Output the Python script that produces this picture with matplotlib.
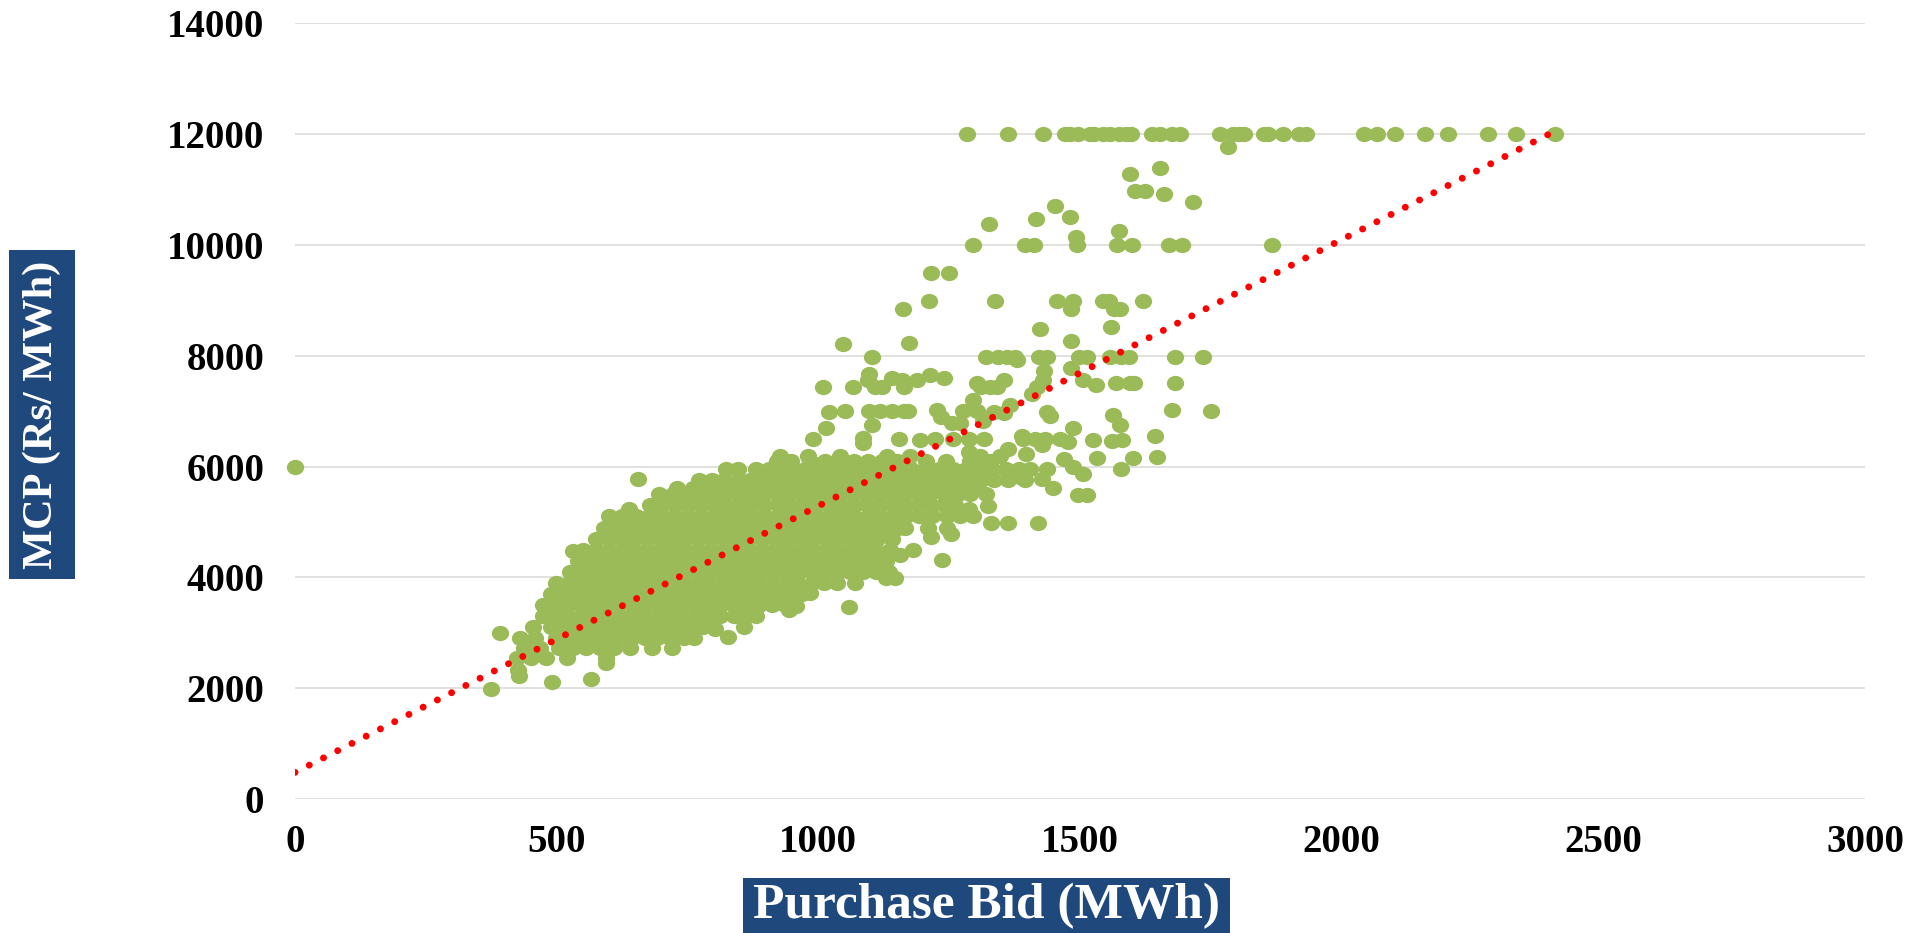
#!/usr/bin/env python3
# -*- coding: utf-8 -*-
"""
MCP against purchase bid, scatter with linear trend
"""
#%%
import matplotlib
matplotlib.use('Agg')
import matplotlib.pyplot as plt
from matplotlib.markers import MarkerStyle
from matplotlib.patches import Rectangle
from matplotlib.transforms import Affine2D

#%% Values
x_ticks = [0, 500, 1000, 1500, 2000, 2500, 3000]
y_ticks = [0, 2000, 4000, 6000, 8000, 10000, 12000, 14000]

trend_x = [0, 2400]
trend_y = [480, 12020]

# capped prices
cap_x = [1284, 1363, 1429, 1472, 1480, 1497, 1519, 1527, 1544, 1557, 1574, 1587, 1598,
         1638, 1652, 1676, 1692, 1767, 1792, 1804, 1813, 1851, 1860, 1887, 1918, 1932,
         2043, 2067, 2101, 2159, 2203, 2280, 2333, 2407]
cap_y = [12000] * len(cap_x)

# sparse points above and around the main cloud
sparse_x = [0, 374, 392, 428, 426, 491, 566, 594, 639, 655, 531, 803, 858, 828, 984, 958, 943,
            1058, 1181, 1156, 1130, 1147, 1216, 1254, 1237, 1324, 1287, 1330, 1363, 1419, 1448,
            1497, 1514, 1578, 1506, 1487, 1365, 1386, 1427,
            1782, 1653, 1595, 1606, 1625, 1661, 1716, 1453, 1480, 1416, 1327, 1574, 1493, 1495,
            1295, 1395, 1412, 1571, 1600, 1671, 1694, 1867, 1216, 1250, 1211, 1338, 1457, 1486,
            1544, 1555, 1621, 1565, 1576, 1483, 1161, 1424, 1559, 1482, 1174,
            1321, 1344, 1360, 1376, 1380, 1421, 1436, 1498, 1513, 1557, 1578, 1593, 1682, 1735,
            1482, 1432, 1213, 1188, 1240, 1159, 1164, 1303, 1311, 1354, 1341, 1328, 1417, 1430,
            1506, 1531, 1569, 1595, 1604, 1682, 1409, 1295, 1226, 1164, 1172, 1234,
            1276, 1303, 1335, 1366, 1355, 1436, 1443, 1676, 1750, 1564, 1577, 1486,
            1255, 1271, 1315, 1644, 1155, 1194, 1223, 1258, 1287, 1317, 1390, 1392, 1414, 1433,
            1462, 1478, 1525, 1561, 1580, 1648, 1601, 1532, 1427, 1363, 1396, 1470,
            1287, 1309, 1347, 1175,
            # left of the 1150 MWh mark
            1048, 1103, 1097, 1094, 1108, 1121, 1008, 1066, 1140, 1021, 1051, 1096, 1118, 1140,
            1014, 1103, 989, 1085, 1086, 981, 1041, 1132, 927]
sparse_y = [6000, 1978, 2990, 2220, 2330, 2117, 2165, 2447, 5230, 5773, 4474, 3067, 3109, 2917, 3710, 3487, 3410,
            3470, 4492, 4400, 3993, 3993, 4732, 4780, 4312, 5286, 5243, 4980, 4980, 4980, 5605,
            5490, 5490, 5950, 5860, 5995, 5810, 5810, 5785,
            11768, 11395, 11275, 10980, 10980, 10914, 10770, 10704, 10500, 10475, 10373, 10247, 10139, 10000,
            10000, 10000, 10000, 10000, 10000, 10000, 10000, 10000, 9489, 9489, 8984, 8984, 8984, 8984,
            8984, 8984, 8984, 8840, 8840, 8840, 8840, 8485, 8520, 8275, 8233,
            7980, 7980, 7980, 7980, 7920, 7980, 7980, 7980, 7980, 7980, 7980, 7980, 7980, 7980,
            7788, 7720, 7650, 7560, 7608, 7570, 7440, 7500, 7440, 7560, 7440, 7440, 7440, 7560,
            7560, 7480, 7500, 7500, 7500, 7500, 7310, 7200, 7030, 7000, 7000, 6900,
            7000, 7000, 6990, 7110, 6960, 6990, 6910, 7020, 7000, 6930, 6750, 6705,
            6780, 6790, 6830, 6554, 6495, 6480, 6495, 6495, 6495, 6495, 6550, 6495, 6495, 6495,
            6495, 6450, 6488, 6470, 6488, 6176, 6157, 6157, 6387, 6310, 6236, 6133,
            6270, 6195, 6195, 6195,
            8215, 7980, 7680, 7560, 7440, 7440, 7440, 7440, 7608, 6980, 7000, 7000, 7000, 7000,
            6705, 6750, 6495, 6510, 6430, 6195, 6195, 6195, 6195]

# main cloud, one list of bids per price level
cloud_6100 = [921, 948, 985, 1012, 1043, 1068, 1095, 1122, 1150, 1205, 1243, 1290, 1330]
cloud_5950 = [823, 846, 880, 905, 928, 950, 975, 1002, 1026, 1051, 1077, 1101, 1128, 1153, 1177, 1204,
              1231, 1258, 1282, 1306, 1332, 1358, 1384, 1405, 1437]
cloud_5750 = [772, 796, 820, 846, 870, 895, 919, 944, 968, 993, 1018, 1042, 1066, 1091, 1116, 1140,
              1164, 1190, 1214, 1238, 1262, 1286, 1310, 1335, 1362, 1395]
cloud_5620 = [730, 760, 785, 810, 835, 860, 884, 908, 932, 957, 981, 1005, 1030, 1055, 1079, 1104,
              1128, 1152, 1177, 1202, 1227, 1252, 1276, 1300]
cloud_5500 = [695, 722, 748, 772, 796, 822, 846, 870, 895, 920, 944, 969, 992, 1018, 1042, 1067,
              1091, 1116, 1141, 1165, 1190, 1214, 1240, 1266, 1290, 1320]
cloud_5300 = [678, 702, 726, 750, 775, 800, 824, 849, 872, 897, 922, 946, 970, 995, 1020, 1044,
              1068, 1093, 1118, 1142, 1166, 1190, 1215, 1240, 1262]
cloud_5100 = [600, 625, 652, 677, 702, 726, 751, 776, 800, 825, 849, 873, 898, 922, 947, 971,
              996, 1020, 1045, 1069, 1094, 1118, 1143, 1168, 1192, 1218, 1245, 1270, 1296]
cloud_4900 = [590, 614, 640, 664, 688, 713, 738, 762, 786, 811, 835, 860, 884, 908, 933, 958,
              982, 1006, 1031, 1055, 1080, 1104, 1128, 1152, 1165, 1210, 1246]
cloud_4700 = [575, 600, 624, 648, 673, 697, 722, 746, 771, 795, 820, 844, 868, 893, 917, 942,
              966, 990, 1015, 1039, 1064, 1088, 1112, 1140]
cloud_4500 = [550, 575, 600, 624, 648, 672, 697, 721, 746, 770, 795, 819, 843, 868, 892, 917,
              941, 965, 990, 1014, 1038, 1063, 1087, 1111, 1136]
cloud_4300 = [540, 564, 590, 614, 638, 662, 687, 711, 736, 760, 784, 809, 833, 858, 882, 906,
              931, 955, 980, 1004, 1028, 1052, 1077, 1101, 1130]
cloud_4100 = [525, 550, 574, 598, 622, 647, 671, 696, 720, 744, 769, 793, 818, 842, 866, 891,
              915, 940, 964, 988, 1012, 1037, 1061, 1085, 1110, 1135]
cloud_3900 = [499, 524, 548, 572, 597, 621, 646, 670, 694, 719, 743, 768, 792, 816, 841, 865,
              889, 914, 938, 962, 987, 1011, 1035, 1070]
cloud_3700 = [490, 514, 538, 563, 587, 611, 636, 660, 685, 709, 733, 758, 782, 806, 831, 855,
              879, 904, 928, 952, 968]
cloud_3500 = [473, 498, 522, 547, 571, 595, 620, 644, 668, 693, 717, 741, 766, 790, 814, 839,
              863, 887, 912, 936]
cloud_3300 = [473, 497, 521, 546, 570, 594, 619, 643, 667, 692, 716, 740, 765, 789, 813, 838,
              862, 880]
cloud_3100 = [455, 490, 514, 538, 563, 587, 611, 635, 660, 684, 708, 733, 757, 780]
cloud_2900 = [430, 458, 498, 522, 546, 570, 595, 619, 643, 668, 692, 716, 744, 763]
cloud_2720 = [437, 468, 505, 531, 556, 582, 610, 640, 682, 720]
cloud_2540 = [425, 450, 480, 520, 594]

cloud_levels = [6100, 5950, 5750, 5620, 5500, 5300, 5100, 4900, 4700, 4500, 4300, 4100,
                3900, 3700, 3500, 3300, 3100, 2900, 2720, 2540]
cloud_rows = [cloud_6100, cloud_5950, cloud_5750, cloud_5620, cloud_5500, cloud_5300, cloud_5100,
              cloud_4900, cloud_4700, cloud_4500, cloud_4300, cloud_4100, cloud_3900,
              cloud_3700, cloud_3500, cloud_3300, cloud_3100, cloud_2900, cloud_2720, cloud_2540]

#%% Figure
WIDTH, HEIGHT = 1928, 933
NAVY = '#1F497D'
GREEN = '#9BBB59'
SERIF = 'Liberation Serif'
DOT = 11.0

fig = plt.figure(figsize=(WIDTH/100, HEIGHT/100), dpi=100, facecolor='white')
ax = fig.add_axes([295/WIDTH, 1-799/HEIGHT, (1865-295)/WIDTH, (799-23.4)/HEIGHT])

# the source picture is stretched sideways, so the dots are too
oval = MarkerStyle('o', transform=Affine2D().scale(1.13, 1.0))
ax.plot(cap_x, cap_y, ls='none', marker=oval, ms=DOT, color=GREEN, mew=0, clip_on=False, zorder=3)
ax.plot(sparse_x, sparse_y, ls='none', marker=oval, ms=DOT, color=GREEN, mew=0, clip_on=False, zorder=3)
for level, row in zip(cloud_levels, cloud_rows):
    ax.plot(row, [level]*len(row), ls='none', marker=oval, ms=DOT, color=GREEN, mew=0, zorder=3)

ax.plot(trend_x, trend_y, color='#FF0000', lw=5.0, ls=(0, (0.01, 2.29)),
        dash_capstyle='round', zorder=4)

ax.set_xlim(0, 3000)
ax.set_ylim(0, 14000)
ax.set_xticks(x_ticks)
ax.set_yticks(y_ticks)
ax.grid(axis='y', color='#D9D9D9', lw=1.1)
ax.set_axisbelow(True)
for side in ax.spines:
    ax.spines[side].set_visible(False)
ax.tick_params(axis='both', length=0, labelsize=28)
ax.tick_params(axis='x', pad=18)
ax.tick_params(axis='y', pad=22)
for label in ax.get_xticklabels() + ax.get_yticklabels():
    label.set_fontfamily(SERIF)
    label.set_fontweight('bold')

#%% Axis titles on navy boxes
fig.add_artist(Rectangle((743/WIDTH, 1-933/HEIGHT), 487/WIDTH, 55/HEIGHT,
                         transform=fig.transFigure, fc=NAVY, ec='none'))
fig.text(987/WIDTH, 1-906/HEIGHT, 'Purchase Bid (MWh)', color='white', family=SERIF,
         weight='bold', fontsize=37, ha='center', va='center')
fig.add_artist(Rectangle((9/WIDTH, 1-579/HEIGHT), 66/WIDTH, 329/HEIGHT,
                         transform=fig.transFigure, fc=NAVY, ec='none'))
fig.text(42/WIDTH, 1-415/HEIGHT, 'MCP (Rs/ MWh)', color='white', family=SERIF,
         weight='bold', fontsize=30.5, ha='center', va='center', rotation=90)

fig.savefig('out.png', dpi=100)
